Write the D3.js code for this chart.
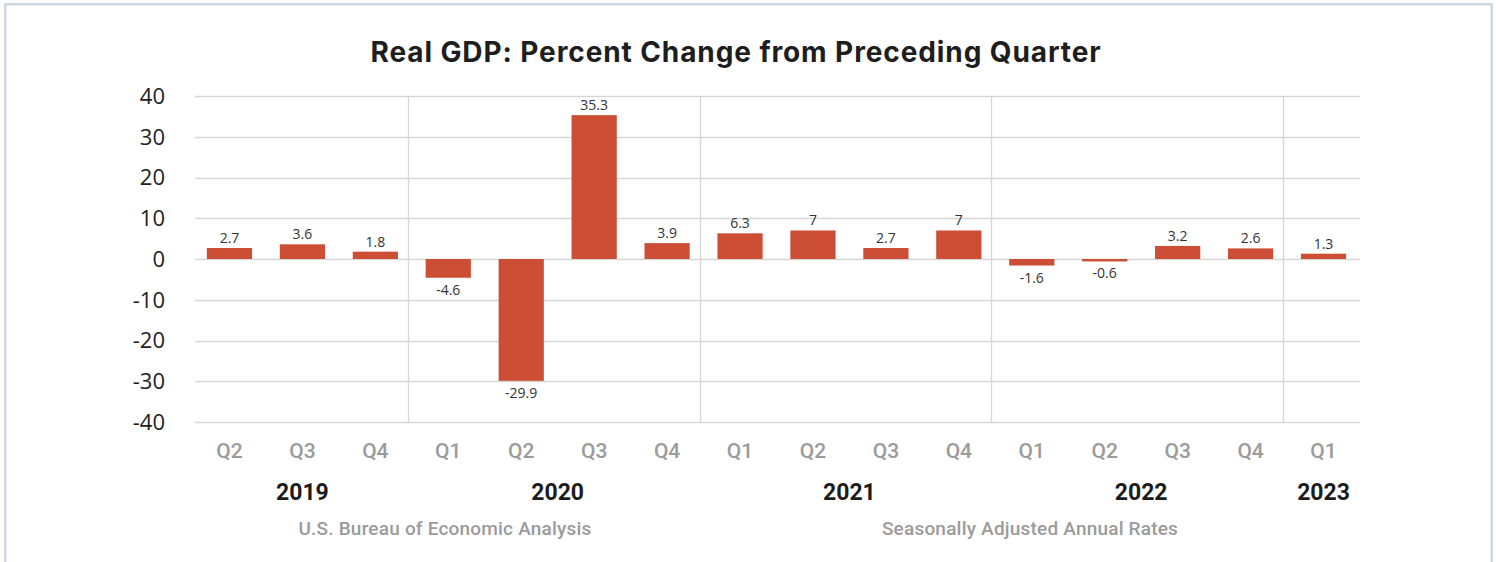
<!DOCTYPE html>
<html>
<head>
<meta charset="utf-8">
<script src="https://cdn.jsdelivr.net/npm/d3@7"></script>
<style>
  html, body { margin: 0; padding: 0; background: #ffffff; }
  svg { display: block; }
</style>
</head>
<body>
<svg id="chart" width="1496" height="562"></svg>
<script>
// Real GDP, percent change from preceding quarter (SAAR)
const quarters = ["Q2","Q3","Q4","Q1","Q2","Q3","Q4","Q1","Q2","Q3","Q4","Q1","Q2","Q3","Q4","Q1"];
const years    = ["2019","2019","2019","2020","2020","2020","2020","2021","2021","2021","2021","2022","2022","2022","2022","2023"];
const gdpChange = [2.7, 3.6, 1.8, -4.6, -29.9, 35.3, 3.9, 6.3, 7, 2.7, 7, -1.6, -0.6, 3.2, 2.6, 1.3];
const yTicks = [-40, -30, -20, -10, 0, 10, 20, 30, 40];
const yearLabels = ["2019","2020","2021","2022","2023"];

const title = "Real GDP: Percent Change from Preceding Quarter";
const sourceNote = "U.S. Bureau of Economic Analysis";
const rateNote = "Seasonally Adjusted Annual Rates";

const svg = d3.select("#chart");
const W = 1496, H = 562;

// outer frame
svg.append("rect")
  .attr("x", 5.25).attr("y", 4.25)
  .attr("width", 1486.5).attr("height", H + 10)
  .attr("fill", "#ffffff")
  .attr("stroke", "#cfd7df")
  .attr("stroke-width", 2.5);

const plot = { left: 195, right: 1360, top: 96, bottom: 422 };

const idx = d3.range(gdpChange.length);
const x = d3.scaleBand()
  .domain(idx)
  .range([193, 1360])
  .paddingInner(0.38)
  .paddingOuter(0.19);

const y = d3.scaleLinear()
  .domain([-40, 40])
  .range([plot.bottom, plot.top]);

// horizontal gridlines
svg.append("g")
  .selectAll("line")
  .data(yTicks)
  .join("line")
  .attr("x1", plot.left).attr("x2", plot.right)
  .attr("y1", d => Math.round(y(d)) + 0.5)
  .attr("y2", d => Math.round(y(d)) + 0.5)
  .attr("stroke", "#d6d6d6")
  .attr("stroke-width", 1.3);

// year separators between the last and first quarter of consecutive years
const yearStarts = idx.filter(i => i > 0 && years[i] !== years[i - 1]);
svg.append("g")
  .selectAll("line")
  .data(yearStarts)
  .join("line")
  .attr("x1", i => Math.round((x(i - 1) + x.bandwidth() + x(i)) / 2 - 4) + 0.5)
  .attr("x2", i => Math.round((x(i - 1) + x.bandwidth() + x(i)) / 2 - 4) + 0.5)
  .attr("y1", plot.top)
  .attr("y2", plot.bottom)
  .attr("stroke", "#d6d6d6")
  .attr("stroke-width", 1.3);

// y-axis tick labels
svg.append("g")
  .selectAll("text")
  .data(yTicks)
  .join("text")
  .attr("x", 165)
  .attr("y", d => y(d))
  .attr("dy", "0.36em")
  .attr("text-anchor", "end")
  .attr("font-family", "'Open Sans', sans-serif")
  .attr("font-size", 22)
  .attr("fill", "#222222")
  .text(d => d);

// bars
svg.append("g")
  .selectAll("rect")
  .data(idx)
  .join("rect")
  .attr("x", i => x(i))
  .attr("width", x.bandwidth())
  .attr("y", i => y(Math.max(0, gdpChange[i])))
  .attr("height", i => Math.abs(y(gdpChange[i]) - y(0)))
  .attr("fill", "#cc4e35");

// value labels
svg.append("g")
  .selectAll("text")
  .data(idx)
  .join("text")
  .attr("x", i => x(i) + x.bandwidth() / 2)
  .attr("y", i => gdpChange[i] >= 0 ? y(gdpChange[i]) - 5 : y(gdpChange[i]) + 17)
  .attr("text-anchor", "middle")
  .attr("font-family", "'Open Sans', sans-serif")
  .attr("font-size", 14)
  .attr("fill", "#333333")
  .text(i => gdpChange[i]);

// quarter labels
svg.append("g")
  .selectAll("text")
  .data(idx)
  .join("text")
  .attr("x", i => x(i) + x.bandwidth() / 2)
  .attr("y", 458)
  .attr("text-anchor", "middle")
  .attr("font-family", "Roboto, sans-serif")
  .attr("font-weight", 500)
  .attr("font-size", 21)
  .attr("fill", "#9b9b9b")
  .text(i => quarters[i]);

// year labels centred under their quarters
svg.append("g")
  .selectAll("text")
  .data(yearLabels)
  .join("text")
  .attr("x", yr => d3.mean(idx.filter(i => years[i] === yr), i => x(i) + x.bandwidth() / 2))
  .attr("y", 500)
  .attr("text-anchor", "middle")
  .attr("font-family", "Roboto, sans-serif")
  .attr("font-weight", 700)
  .attr("font-size", 23)
  .attr("fill", "#1c1c1c")
  .text(d => d);

// title
svg.append("text")
  .attr("x", 736)
  .attr("y", 62)
  .attr("text-anchor", "middle")
  .attr("font-family", "Inter, sans-serif")
  .attr("font-weight", 700)
  .attr("font-size", 28)
  .attr("letter-spacing", 0.9)
  .attr("fill", "#1e1e1e")
  .text(title);

// footnotes
svg.append("text")
  .attr("x", 445).attr("y", 535)
  .attr("text-anchor", "middle")
  .attr("font-family", "Roboto, sans-serif")
  .attr("font-weight", 500)
  .attr("font-size", 19)
  .attr("letter-spacing", 0.2)
  .attr("fill", "#9b9b9b")
  .text(sourceNote);

svg.append("text")
  .attr("x", 1030).attr("y", 535)
  .attr("text-anchor", "middle")
  .attr("font-family", "Roboto, sans-serif")
  .attr("font-weight", 500)
  .attr("font-size", 19)
  .attr("letter-spacing", 0.2)
  .attr("fill", "#9b9b9b")
  .text(rateNote);
</script>
</body>
</html>
